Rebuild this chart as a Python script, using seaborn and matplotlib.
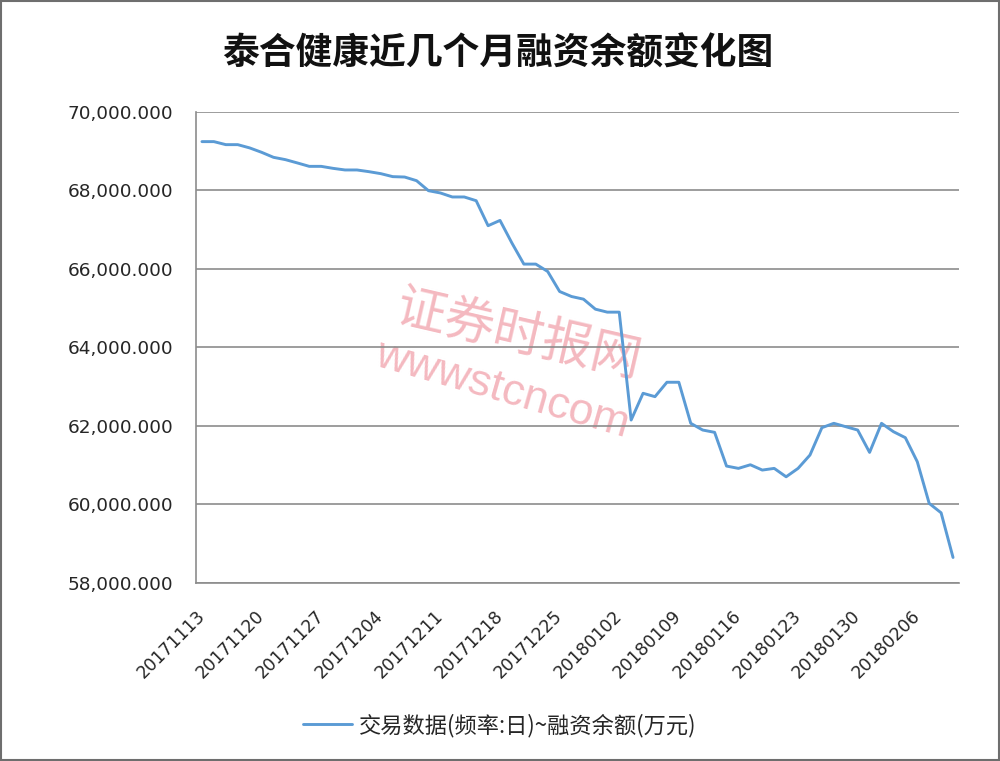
import numpy as np
import pandas as pd
import matplotlib.pyplot as plt
import seaborn as sns
from matplotlib.patches import Rectangle

sns.set_style("white")
plt.rcParams['font.family'] = ['Noto Sans CJK SC', 'DejaVu Sans']

# financing balance (10k yuan), one value per trading day from 20171113
balance = [69242, 69242, 69165, 69165, 69082, 68970, 68842, 68783, 68699, 68612,
           68612, 68561, 68520, 68520, 68477, 68426, 68350, 68340, 68247, 67992,
           67934, 67832, 67832, 67737, 67100, 67235, 66658, 66122, 66122, 65934,
           65424, 65296, 65229, 64974, 64898, 64898, 62150, 62831, 62745, 63112,
           63112, 62066, 61895, 61836, 60977, 60918, 61010, 60875, 60918, 60704,
           60918, 61258, 61955, 62066, 61980, 61895, 61325, 62066, 61853, 61700,
           61088, 60026, 59786, 58648]
tick_labels = ["20171113", "20171120", "20171127", "20171204", "20171211",
               "20171218", "20171225", "20180102", "20180109", "20180116",
               "20180123", "20180130", "20180206"]
series_name = "交易数据(频率:日)~融资余额(万元)"
title = "泰合健康近几个月融资余额变化图"
y_ticks = [58000, 60000, 62000, 64000, 66000, 68000, 70000]

df = pd.DataFrame({"day": np.arange(len(balance)), "value": balance})

text_col = "#262626"
grid_col = "#8c8c8c"

fig = plt.figure(figsize=(10, 7.61), dpi=100)
ax = fig.add_axes([0.196, 0.234, 0.763, 0.619])
ax.set_facecolor("none")

sns.lineplot(data=df, x="day", y="value", ax=ax, color="#5B9BD5",
             linewidth=2.1, label=series_name, legend=False, zorder=3)

ax.set_xlim(-0.5, len(balance) - 0.5)
ax.set_ylim(y_ticks[0], y_ticks[-1])
ax.set_yticks(y_ticks)
ax.set_yticklabels([f"{v:,.3f}" for v in y_ticks], fontsize=13.3,
                   family=['DejaVu Sans'], color=text_col)
ax.yaxis.grid(True, color=grid_col, linewidth=1.2)
ax.tick_params(axis="y", length=5, color=grid_col, pad=11.5)

# labels under every 5th trading day, tick marks on category boundaries
pos = np.arange(0, len(balance), 5)[:len(tick_labels)]
ax.set_xticks(pos)
ax.set_xticklabels(tick_labels, rotation=45, ha="right", va="center",
                   rotation_mode="anchor", fontsize=12.5,
                   family=['DejaVu Sans'], color=text_col)
ax.tick_params(axis="x", length=0, pad=22)
ax.set_xticks(pos - 0.5, minor=True)
ax.tick_params(axis="x", which="minor", length=5.5, color=grid_col)
ax.set_xlabel("")
ax.set_ylabel("")

for s in ["top", "right"]:
    ax.spines[s].set_visible(False)
for s in ["left", "bottom"]:
    ax.spines[s].set_color(grid_col)
    ax.spines[s].set_linewidth(1.2)

fig.text(0.498, 0.929, title, ha="center", va="center", fontsize=26.5,
         fontweight="bold", color="#111111")

# watermark, behind grid and line
ax.text(0.518, 0.56, "证券时报网", transform=fig.transFigure, ha="center",
        va="center", fontsize=36, rotation=-13, color="#f2a7b0", alpha=0.8,
        style="italic", zorder=0.2)
ax.text(0.502, 0.488, "wwwstcncom", transform=fig.transFigure, ha="center",
        va="center", fontsize=32, rotation=-16, color="#f2a7b0", alpha=0.8,
        family=['Liberation Sans', 'DejaVu Sans'], zorder=0.2)

leg = fig.legend(loc="center", bbox_to_anchor=(0.5, 0.047), frameon=False,
                 fontsize=16, handlelength=2.2, handletextpad=0.3)
for t in leg.get_texts():
    t.set_color(text_col)

fig.add_artist(Rectangle((0.001, 0.001), 0.998, 0.998, transform=fig.transFigure,
                         fill=False, edgecolor="#6e6e6e", linewidth=1.5))

fig.savefig("out.png", dpi=100)
